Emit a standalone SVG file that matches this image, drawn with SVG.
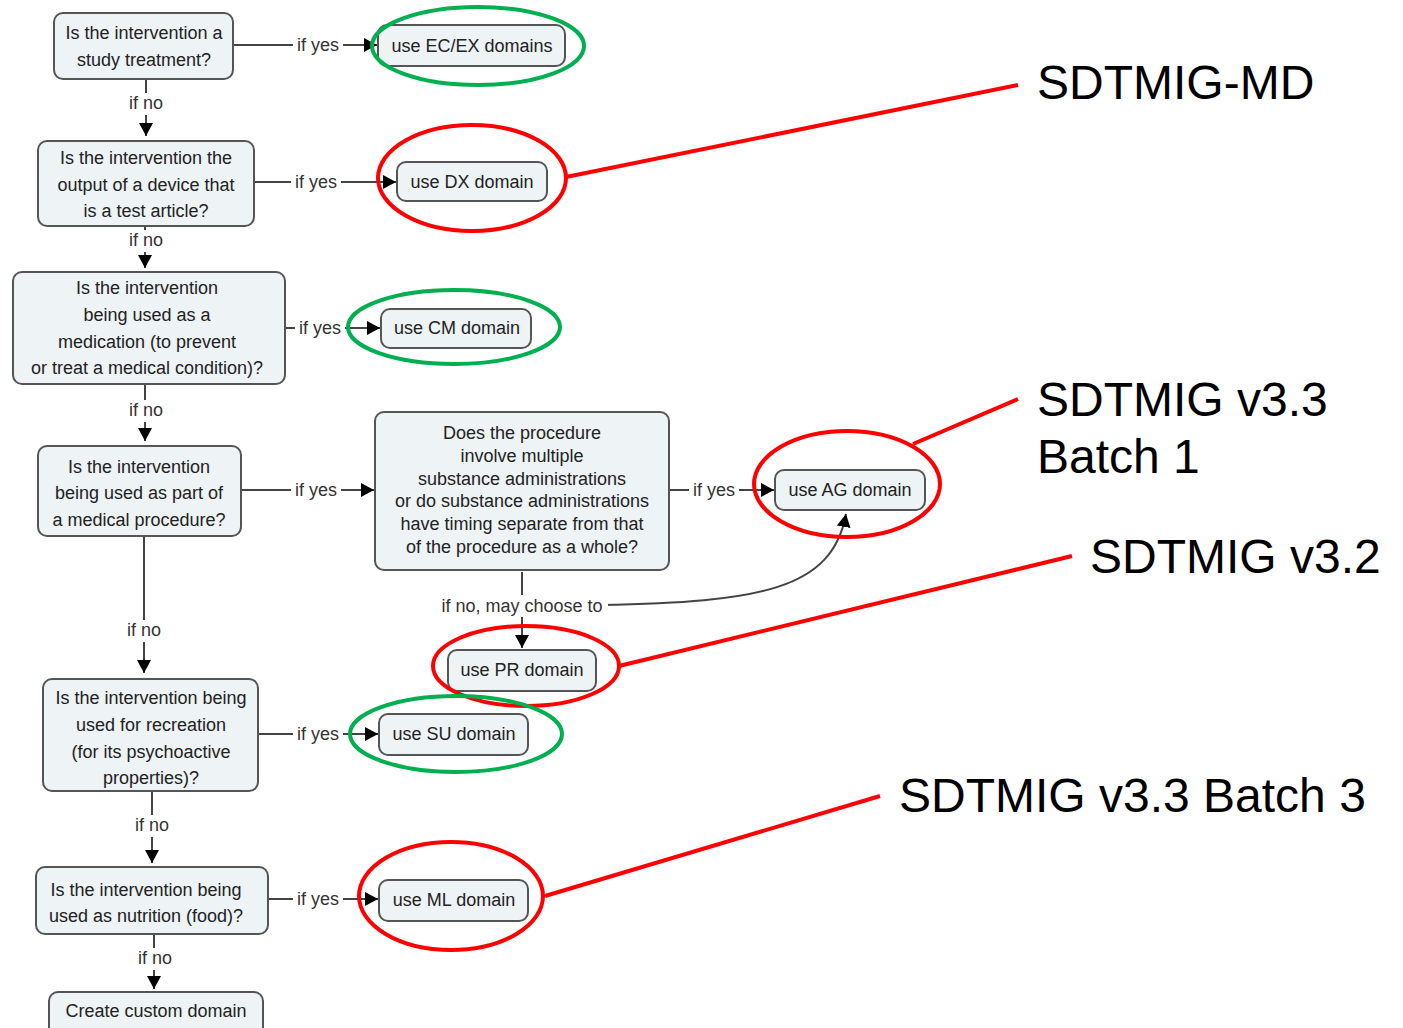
<svg xmlns="http://www.w3.org/2000/svg" width="1403" height="1028" viewBox="0 0 1403 1028">
<style>
.n rect{fill:#eef3f6;stroke:#555;stroke-width:2}
.n text{font-family:"Liberation Sans",Arial,sans-serif;font-size:18px;fill:#222;text-anchor:middle}
.c line,.c path{stroke:#444;stroke-width:2;fill:none}
.c rect{fill:#fff;stroke:none}
.lbl{font-family:"Liberation Sans",Arial,sans-serif;font-size:18px;fill:#333;text-anchor:middle}
.g{fill:none;stroke:#00b050;stroke-width:4}
.r{fill:none;stroke:#ff0000;stroke-width:4}
.big{font-family:"Liberation Sans",Arial,sans-serif;font-size:48px;fill:#000}
</style>
<defs>
<marker id="a" markerUnits="userSpaceOnUse" markerWidth="13" markerHeight="14" refX="13" refY="7" orient="auto">
<path d="M0,0 L13,7 L0,14 z" fill="#000"/>
</marker>
</defs>

<g class="c" id="connectors">
<line x1="233" y1="45" x2="377" y2="45" marker-end="url(#a)"/>
<line x1="146" y1="79" x2="146" y2="136" marker-end="url(#a)"/>
<line x1="254" y1="182" x2="396" y2="182" marker-end="url(#a)"/>
<line x1="145" y1="226" x2="145" y2="268" marker-end="url(#a)"/>
<line x1="285" y1="328" x2="380" y2="328" marker-end="url(#a)"/>
<line x1="145" y1="384" x2="145" y2="441" marker-end="url(#a)"/>
<line x1="241" y1="490" x2="374" y2="490" marker-end="url(#a)"/>
<line x1="669" y1="490" x2="774" y2="490" marker-end="url(#a)"/>
<line x1="144" y1="536" x2="144" y2="673" marker-end="url(#a)"/>
<line x1="522" y1="572" x2="522" y2="648" marker-end="url(#a)"/>
<path d="M600,605 C760,602 832,590 846,514" marker-end="url(#a)"/>
<line x1="258" y1="734" x2="378" y2="734" marker-end="url(#a)"/>
<line x1="152" y1="791" x2="152" y2="863" marker-end="url(#a)"/>
<line x1="268" y1="899" x2="378" y2="899" marker-end="url(#a)"/>
<line x1="154" y1="934" x2="154" y2="989" marker-end="url(#a)"/>
<rect x="293" y="34" width="50" height="22"/><text class="lbl" x="318" y="51">if yes</text>
<rect x="127" y="93" width="38" height="22"/><text class="lbl" x="146" y="109">if no</text>
<rect x="291" y="171" width="50" height="22"/><text class="lbl" x="316" y="188">if yes</text>
<rect x="127" y="230" width="38" height="22"/><text class="lbl" x="146" y="246">if no</text>
<rect x="295" y="317" width="50" height="22"/><text class="lbl" x="320" y="334">if yes</text>
<rect x="127" y="400" width="38" height="22"/><text class="lbl" x="146" y="416">if no</text>
<rect x="291" y="479" width="50" height="22"/><text class="lbl" x="316" y="496">if yes</text>
<rect x="689" y="479" width="50" height="22"/><text class="lbl" x="714" y="496">if yes</text>
<rect x="125" y="620" width="38" height="22"/><text class="lbl" x="144" y="636">if no</text>
<rect x="438" y="595" width="170" height="22"/><text class="lbl" x="522" y="612">if no, may choose to</text>
<rect x="293" y="723" width="50" height="22"/><text class="lbl" x="318" y="740">if yes</text>
<rect x="133" y="815" width="38" height="22"/><text class="lbl" x="152" y="831">if no</text>
<rect x="293" y="888" width="50" height="22"/><text class="lbl" x="318" y="905">if yes</text>
<rect x="136" y="948" width="38" height="22"/><text class="lbl" x="155" y="964">if no</text>
</g>

<g class="n" id="q1"><rect x="54" y="13" width="179" height="66" rx="9"/>
<text x="144" y="39">Is the intervention a</text><text x="144" y="66">study treatment?</text></g>
<g class="n" id="ecex"><rect x="378" y="25" width="187" height="41" rx="9"/>
<text x="472" y="52">use EC/EX domains</text></g>
<g class="n" id="q2"><rect x="38" y="141" width="216" height="85" rx="9"/>
<text x="146" y="164">Is the intervention the</text><text x="146" y="191">output of a device that</text><text x="146" y="217">is a test article?</text></g>
<g class="n" id="dx"><rect x="397" y="162" width="150" height="39" rx="9"/>
<text x="472" y="188">use DX domain</text></g>
<g class="n" id="q3"><rect x="13" y="272" width="272" height="112" rx="9"/>
<text x="147" y="294">Is the intervention</text><text x="147" y="321">being used as a</text><text x="147" y="348">medication (to prevent</text><text x="147" y="374">or treat a medical condition)?</text></g>
<g class="n" id="cm"><rect x="381" y="309" width="150" height="39" rx="9"/>
<text x="457" y="334">use CM domain</text></g>
<g class="n" id="q4"><rect x="38" y="446" width="203" height="90" rx="9"/>
<text x="139" y="473">Is the intervention</text><text x="139" y="499">being used as part of</text><text x="139" y="526">a medical procedure?</text></g>
<g class="n" id="q5"><rect x="375" y="412" width="294" height="158" rx="9"/>
<text x="522" y="439">Does the procedure</text><text x="522" y="462">involve multiple</text><text x="522" y="485">substance administrations</text><text x="522" y="507">or do substance administrations</text><text x="522" y="530">have timing separate from that</text><text x="522" y="553">of the procedure as a whole?</text></g>
<g class="n" id="ag"><rect x="775" y="470" width="150" height="40" rx="9"/>
<text x="850" y="496">use AG domain</text></g>
<g class="n" id="pr"><rect x="448" y="650" width="148" height="41" rx="9"/>
<text x="522" y="676">use PR domain</text></g>
<g class="n" id="q6"><rect x="43" y="679" width="215" height="112" rx="9"/>
<text x="151" y="704">Is the intervention being</text><text x="151" y="731">used for recreation</text><text x="151" y="758">(for its psychoactive</text><text x="151" y="784">properties)?</text></g>
<g class="n" id="su"><rect x="379" y="714" width="149" height="41" rx="9"/>
<text x="454" y="740">use SU domain</text></g>
<g class="n" id="q7"><rect x="36" y="867" width="232" height="67" rx="9"/>
<text x="146" y="896">Is the intervention being</text><text x="146" y="922">used as nutrition (food)?</text></g>
<g class="n" id="ml"><rect x="379" y="880" width="149" height="41" rx="9"/>
<text x="454" y="906">use ML domain</text></g>
<g class="n" id="custom"><rect x="49" y="992" width="214" height="44" rx="9"/>
<text x="156" y="1017">Create custom domain</text></g>

<g id="highlights">
<ellipse class="g" cx="478" cy="46" rx="106" ry="39"/>
<ellipse class="r" cx="472" cy="178" rx="94" ry="53"/>
<ellipse class="g" cx="454" cy="327" rx="106" ry="37"/>
<ellipse class="r" cx="847" cy="484" rx="93" ry="53"/>
<ellipse class="r" cx="526" cy="666" rx="93" ry="40"/>
<ellipse class="g" cx="456" cy="734" rx="106" ry="38"/>
<ellipse class="r" cx="451" cy="896" rx="92" ry="54"/>
<line class="r" x1="566" y1="177" x2="1018" y2="85"/>
<line class="r" x1="913" y1="444" x2="1018" y2="399"/>
<line class="r" x1="619" y1="666" x2="1072" y2="556"/>
<line class="r" x1="545" y1="896" x2="880" y2="796"/>
</g>

<g id="labels">
<text class="big" x="1037" y="99">SDTMIG-MD</text>
<text class="big" x="1037" y="416">SDTMIG v3.3</text>
<text class="big" x="1037" y="473">Batch 1</text>
<text class="big" x="1090" y="573">SDTMIG v3.2</text>
<text class="big" x="899" y="812">SDTMIG v3.3 Batch 3</text>
</g>
</svg>
